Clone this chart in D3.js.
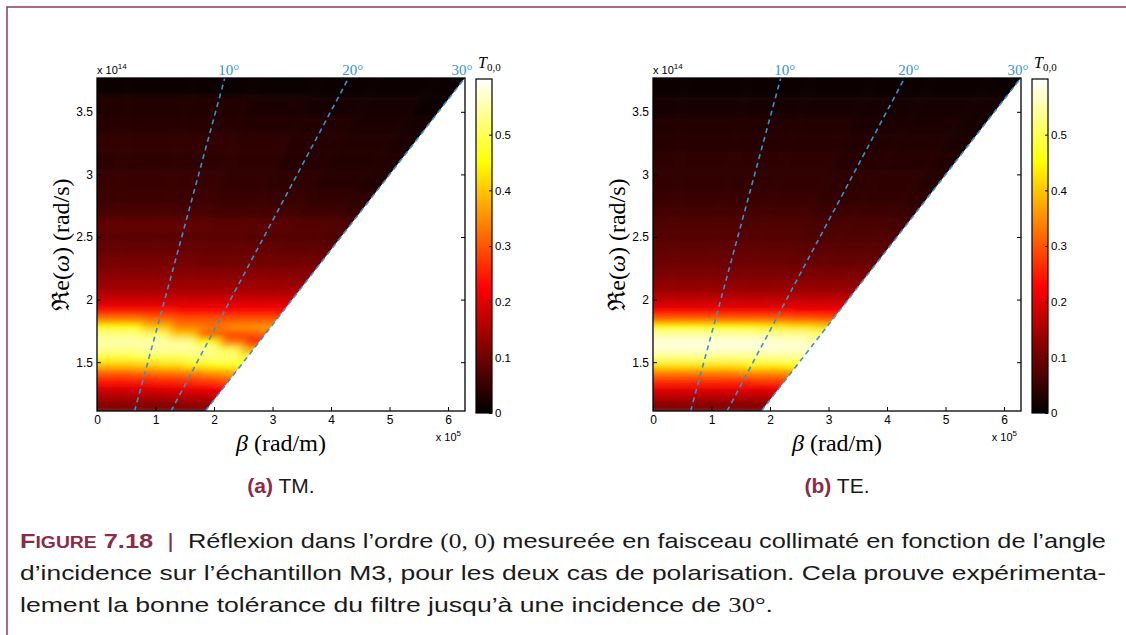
<!DOCTYPE html>
<html>
<head>
<meta charset="utf-8">
<script src="https://cdn.jsdelivr.net/npm/d3@7"></script>
<style>
  body { margin: 0; background: #fff; }
  svg { display: block; }
</style>
</head>
<body>
<svg id="fig" width="1126" height="635"></svg>
<script>
// frequency rows (x 1e14 rad/s) and incidence angles (deg) of the measurement
const omegaRows = [1.12, 1.18, 1.24, 1.30, 1.36, 1.42, 1.48, 1.54, 1.60, 1.66, 1.72, 1.78, 1.84, 1.90, 1.96,
                   2.02, 2.10, 2.20, 2.30, 2.40, 2.50, 2.60, 2.70, 2.80, 2.95, 3.10, 3.25, 3.40, 3.55, 3.70]
const thetaCols = [0, 5, 10, 15, 20, 25, 30]

// T(0,0), one row per omega, one column per angle
const tmValues = [
  [.10, .10, .10, .10, .10, .10, .11],
  [.13, .13, .13, .13, .13, .14, .14],
  [.16, .16, .16, .16, .17, .17, .18],
  [.20, .20, .20, .21, .21, .22, .23],
  [.25, .25, .25, .26, .27, .28, .30],
  [.31, .31, .32, .33, .34, .36, .38],
  [.40, .40, .41, .42, .44, .46, .47],
  [.48, .48, .49, .50, .51, .52, .49],
  [.53, .53, .54, .54, .54, .50, .38],
  [.55, .55, .55, .54, .46, .33, .24],
  [.53, .53, .51, .41, .31, .28, .30],
  [.46, .45, .40, .34, .33, .35, .36],
  [.34, .34, .32, .30, .30, .30, .30],
  [.25, .25, .25, .24, .24, .24, .24],
  [.20, .20, .20, .20, .20, .20, .20],
  [.17, .17, .17, .17, .17, .17, .17],
  [.14, .14, .14, .14, .14, .14, .14],
  [.12, .12, .12, .12, .12, .12, .12],
  [.105, .105, .105, .10, .10, .10, .10],
  [.09, .09, .09, .09, .09, .085, .085],
  [.08, .08, .08, .08, .075, .075, .07],
  [.085, .085, .085, .08, .08, .075, .07],
  [.065, .065, .065, .06, .06, .055, .05],
  [.055, .055, .055, .05, .05, .045, .04],
  [.05, .05, .05, .045, .04, .035, .03],
  [.04, .04, .04, .04, .035, .03, .03],
  [.045, .045, .045, .04, .035, .03, .025],
  [.035, .035, .035, .03, .03, .025, .02],
  [.03, .03, .03, .025, .02, .02, .015],
  [.015, .015, .015, .012, .01, .01, .01]
]

const teValues = [
  [.10, .10, .10, .10, .10, .10, .10],
  [.13, .13, .13, .13, .13, .13, .13],
  [.17, .17, .17, .17, .17, .17, .17],
  [.21, .21, .21, .21, .21, .21, .22],
  [.27, .27, .27, .27, .27, .28, .28],
  [.34, .34, .34, .34, .35, .35, .36],
  [.43, .43, .43, .43, .44, .44, .45],
  [.52, .52, .52, .52, .52, .53, .53],
  [.57, .57, .57, .57, .57, .57, .57],
  [.58, .58, .58, .58, .58, .57, .56],
  [.55, .55, .55, .55, .54, .54, .52],
  [.45, .45, .45, .45, .44, .43, .42],
  [.32, .32, .32, .32, .32, .31, .30],
  [.24, .24, .24, .24, .24, .23, .23],
  [.19, .19, .19, .19, .19, .19, .19],
  [.16, .16, .16, .16, .16, .16, .16],
  [.13, .13, .13, .13, .13, .13, .13],
  [.11, .11, .11, .11, .11, .11, .11],
  [.095, .095, .095, .095, .09, .09, .09],
  [.085, .085, .085, .085, .08, .08, .08],
  [.075, .075, .075, .075, .07, .07, .07],
  [.07, .07, .07, .07, .065, .065, .06],
  [.06, .06, .06, .06, .055, .055, .05],
  [.05, .05, .05, .05, .045, .045, .04],
  [.045, .045, .045, .045, .04, .04, .035],
  [.04, .04, .04, .04, .035, .035, .03],
  [.035, .035, .035, .035, .03, .03, .025],
  [.03, .03, .03, .03, .025, .025, .02],
  [.02, .02, .02, .02, .02, .02, .02],
  [.01, .01, .01, .01, .01, .01, .01]
]

const omegaDomain = [1.11, 3.77]
const betaDomain = [0, 6.29]
const xTicks = [0, 1, 2, 3, 4, 5, 6]
const yTicks = [1.5, 2, 2.5, 3, 3.5]
const cbDomain = [0, 0.6]
const cbTicks = [0, 0.1, 0.2, 0.3, 0.4, 0.5]
const lineAngles = [10, 20, 30]

const panelTags = ["(a)", "(b)"]
const panelNames = ["TM.", "TE."]
const panelData = [tmValues, teValues]

const maroon = "#8a2c45"
const blue = "#3393d6"
const sans = "'Liberation Sans', Arial, Helvetica, sans-serif"
const serif = "'Liberation Serif', 'DejaVu Serif', serif"

// beta (x 1e5 rad/m) on the light line of a given angle
function beta(omega, thetaDeg) {
    return omega * 1e14 / 2.998e8 * Math.sin(thetaDeg * Math.PI / 180) / 1e5
}

// matlab "hot" colormap over the colorbar range
function hot(v) {
    let t = Math.max(0, Math.min(1, (v - cbDomain[0]) / (cbDomain[1] - cbDomain[0])))
    let r = Math.min(1, t / 0.375)
    let g = Math.max(0, Math.min(1, (t - 0.375) / 0.375))
    let b = Math.max(0, Math.min(1, (t - 0.75) / 0.25))
    return d3.rgb(r * 255, g * 255, b * 255).formatHex()
}

const svg = d3.select("#fig")
const W = +svg.attr("width"), H = +svg.attr("height")

// page frame
svg.append("path")
    .attr("d", `M7,${H} V7 H${W}`)
    .attr("fill", "none")
    .attr("stroke", "#8e3d50")
    .attr("stroke-width", 1.5)

const defs = svg.append("defs")
defs.append("filter")
    .attr("id", "soft")
    .attr("filterUnits", "userSpaceOnUse")
    .attr("x", 0).attr("y", 0).attr("width", W).attr("height", H)
    .append("feGaussianBlur")
    .attr("stdDeviation", "4 3")

let grad = defs.append("linearGradient")
    .attr("id", "hotGrad")
    .attr("x1", 0).attr("y1", 1).attr("x2", 0).attr("y2", 0)
grad.selectAll("stop")
    .data([0, 0.375, 0.75, 1])
    .join("stop")
    .attr("offset", d => d)
    .attr("stop-color", d => hot(cbDomain[0] + d * (cbDomain[1] - cbDomain[0])))

function buildCells(values) {
    let cells = []
    let n = omegaRows.length
    omegaRows.forEach((w, i) => {
        let lo = i === 0 ? w - (omegaRows[1] - w) / 2 : (omegaRows[i - 1] + w) / 2
        let hi = i === n - 1 ? Math.max(w + (w - omegaRows[i - 1]) / 2, omegaDomain[1]) + 0.05 : (w + omegaRows[i + 1]) / 2
        thetaCols.forEach((t, j) => {
            let tlo = j === 0 ? -3 : (thetaCols[j - 1] + t) / 2
            let thi = j === thetaCols.length - 1 ? t + 3 : (t + thetaCols[j + 1]) / 2
            cells.push({ v: values[i][j], pts: [[tlo, lo], [thi, lo], [thi, hi], [tlo, hi]] })
        })
    })
    return cells
}

function drawPanel(k, left) {
    const plotW = 368, top = 78, bottom = 411
    const x = d3.scaleLinear().domain(betaDomain).range([left, left + plotW])
    const y = d3.scaleLinear().domain(omegaDomain).range([bottom, top])
    const g = svg.append("g")

    // region reachable below 30 deg
    let edge = [[0, omegaDomain[0]], [beta(omegaDomain[0], 30), omegaDomain[0]],
                [beta(omegaDomain[1], 30), omegaDomain[1]], [0, omegaDomain[1]]]
    defs.append("clipPath").attr("id", "clip" + k)
        .append("polygon")
        .attr("points", edge.map(p => [x(p[0]), y(p[1])].join(",")).join(" "))

    g.append("g")
        .attr("clip-path", `url(#clip${k})`)
        .append("g")
        .attr("filter", "url(#soft)")
        .selectAll("polygon")
        .data(buildCells(panelData[k]))
        .join("polygon")
        .attr("points", d => d.pts.map(p => [x(beta(p[1], p[0])), y(p[1])].join(",")).join(" "))
        .attr("fill", d => hot(d.v))
        .attr("stroke", d => hot(d.v))
        .attr("stroke-width", 0.6)

    // iso-angle lines
    let line = d3.line().x(d => x(d[0])).y(d => y(d[1]))
    g.selectAll(".iso")
        .data(lineAngles)
        .join("path")
        .attr("d", a => line([[beta(omegaDomain[0], a), omegaDomain[0]], [beta(omegaDomain[1], a), omegaDomain[1]]]))
        .attr("fill", "none")
        .attr("stroke", blue)
        .attr("stroke-width", 1.6)
        .attr("stroke-dasharray", "5,4")

    g.selectAll(".angleLabel")
        .data(lineAngles)
        .join("text")
        .attr("x", a => Math.min(x(beta(omegaDomain[1], a)) + 4, left + plotW - 3))
        .attr("y", top - 3)
        .attr("text-anchor", "middle")
        .attr("font-family", serif)
        .attr("font-size", 15)
        .attr("fill", blue)
        .text(a => a + "°")

    // axes, matlab style: ticks inside the box
    let axB = g.append("g").attr("transform", `translate(0,${bottom})`)
        .call(d3.axisBottom(x).tickValues(xTicks).tickSizeInner(-4).tickSizeOuter(0).tickPadding(4).tickFormat(d3.format("d")))
    let axT = g.append("g").attr("transform", `translate(0,${top})`)
        .call(d3.axisTop(x).tickValues(xTicks).tickSizeInner(-4).tickSizeOuter(0).tickFormat(""))
    let axL = g.append("g").attr("transform", `translate(${left},0)`)
        .call(d3.axisLeft(y).tickValues(yTicks).tickSizeInner(-4).tickSizeOuter(0).tickPadding(4).tickFormat(d => d))
    let axR = g.append("g").attr("transform", `translate(${left + plotW},0)`)
        .call(d3.axisRight(y).tickValues(yTicks).tickSizeInner(-4).tickSizeOuter(0).tickFormat(""))
    ;[axB, axT, axL, axR].forEach(a => {
        a.select(".domain").remove()
        a.selectAll("line").attr("stroke", "#000")
        a.selectAll("text").attr("font-family", sans).attr("font-size", 12).attr("fill", "#000")
    })

    g.append("rect")
        .attr("x", left).attr("y", top)
        .attr("width", plotW).attr("height", bottom - top)
        .attr("fill", "none").attr("stroke", "#000").attr("stroke-width", 1.3)

    // exponent notes
    let e14 = g.append("text").attr("x", left).attr("y", top - 4)
        .attr("font-family", sans).attr("font-size", 11)
    e14.append("tspan").text("x 10")
    e14.append("tspan").attr("font-size", 8).attr("dy", -5).text("14")

    let e5 = g.append("text").attr("x", left + plotW - 4).attr("y", bottom + 30)
        .attr("text-anchor", "end").attr("font-family", sans).attr("font-size", 11)
    e5.append("tspan").text("x 10")
    e5.append("tspan").attr("font-size", 8).attr("dy", -5).text("5")

    // axis titles
    let yl = g.append("text")
        .attr("transform", `translate(${left - 36},${(top + bottom) / 2}) rotate(-90)`)
        .attr("text-anchor", "middle").attr("font-family", serif).attr("font-size", 24)
        .attr("dy", "0.35em")
    yl.append("tspan").text("ℜe(")
    yl.append("tspan").attr("font-style", "italic").text("ω")
    yl.append("tspan").text(") (rad/s)")

    let xl = g.append("text")
        .attr("x", left + plotW / 2).attr("y", bottom + 40)
        .attr("text-anchor", "middle").attr("font-family", serif).attr("font-size", 24)
    xl.append("tspan").attr("font-style", "italic").text("β")
    xl.append("tspan").text(" (rad/m)")

    // colorbar
    const cbX = left + plotW + 11, cbW = 16
    const cy = d3.scaleLinear().domain(cbDomain).range([bottom + 2, top + 1])
    g.append("rect")
        .attr("x", cbX).attr("y", cy(cbDomain[1]))
        .attr("width", cbW).attr("height", cy(cbDomain[0]) - cy(cbDomain[1]))
        .attr("fill", "url(#hotGrad)").attr("stroke", "#000").attr("stroke-width", 1.2)
    let axC = g.append("g").attr("transform", `translate(${cbX + cbW},0)`)
        .call(d3.axisRight(cy).tickValues(cbTicks).tickSizeInner(-3).tickSizeOuter(0).tickPadding(3).tickFormat(d => d))
    axC.select(".domain").remove()
    axC.selectAll("line").attr("stroke", "#000")
    axC.selectAll("text").attr("font-family", sans).attr("font-size", 11.5).attr("fill", "#000")

    let ct = g.append("text").attr("x", cbX + 2).attr("y", top - 10)
        .attr("font-family", serif).attr("font-size", 16)
    ct.append("tspan").attr("font-style", "italic").text("T")
    ct.append("tspan").attr("font-size", 11).attr("dy", 3).text("0,0")

    // sub caption
    let sc = g.append("text")
        .attr("x", left + plotW / 2).attr("y", 493)
        .attr("text-anchor", "middle").attr("font-family", sans).attr("font-size", 21)
    sc.append("tspan").attr("font-weight", "bold").attr("fill", maroon).text(panelTags[k])
    sc.append("tspan").attr("fill", "#1a1a1a").text(" " + panelNames[k])
}

drawPanel(0, 97)
drawPanel(1, 653)

// figure caption, justified lines
const captionY = [548, 580, 612]
const captionWidth = [1086, 1086, 753]
const captionParts = [
    [["F", "cap"], ["IGURE", "small"], [" 7.18", "cap"], ["  |  ", "bar"], ["Réflexion dans l’ordre ", ""], ["(0, 0)", "math"],
     [" mesureée en faisceau collimaté en fonction de l’angle", ""]],
    [["d’incidence sur l’échantillon M3, pour les deux cas de polarisation. Cela prouve expérimenta-", ""]],
    [["lement la bonne tolérance du filtre jusqu’à une incidence de ", ""], ["30°", "math"], [".", ""]]
]

captionParts.forEach((parts, i) => {
    let t = svg.append("text")
        .attr("x", 20).attr("y", captionY[i])
        .attr("font-family", sans).attr("font-size", 21).attr("fill", "#1a1a1a")
        .attr("textLength", captionWidth[i])
        .attr("lengthAdjust", "spacingAndGlyphs")
        .attr("xml:space", "preserve")
    parts.forEach(p => {
        let s = t.append("tspan").text(p[0])
        if (p[1] === "cap") s.attr("fill", maroon).attr("font-weight", "bold")
        if (p[1] === "small") s.attr("fill", maroon).attr("font-weight", "bold").attr("font-size", 16)
        if (p[1] === "bar") s.attr("fill", maroon)
        if (p[1] === "math") s.attr("font-family", serif)
    })
})
</script>
</body>
</html>
